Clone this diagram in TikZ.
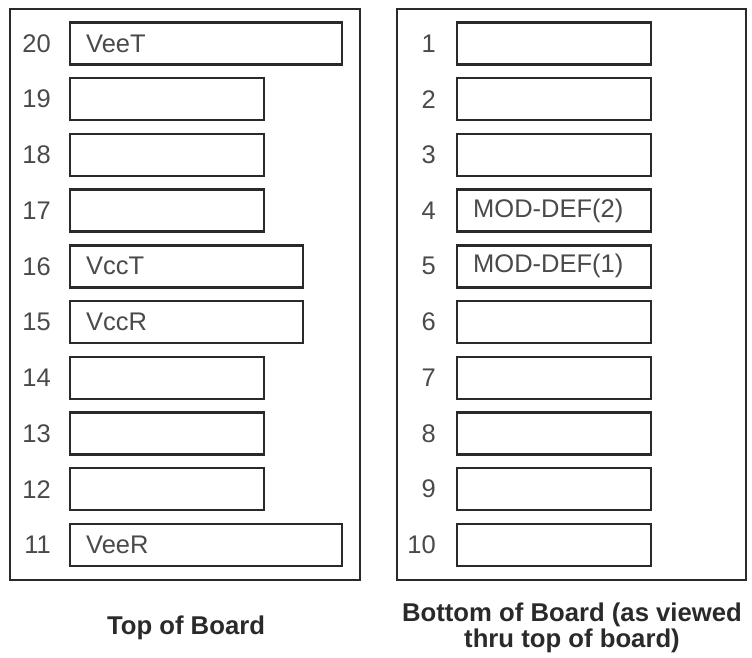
\documentclass[tikz,border=0pt]{standalone}
\usepackage{fontspec}
\setmainfont{Liberation Sans}
\usepackage{tikz}
\usetikzlibrary{positioning}
\definecolor{lineGray}{HTML}{2A2A2A}
\definecolor{textGray}{HTML}{4A4A4A}
\tikzset{
    boardFrame/.style={draw=lineGray, line width=2.4pt},
    pinPad/.style={draw=lineGray, line width=2.4pt, rectangle, anchor=west,
        minimum height=42pt, inner xsep=16pt, inner ysep=0pt, align=left,
        text width=#1-32pt, minimum width=#1, text=textGray,
        font=\fontsize{25.5}{25.5}\selectfont},
    pinPad/.default=194pt,
    pinNum/.style={anchor=east, inner sep=0pt, text=textGray,
        font=\fontsize{25.5}{25.5}\selectfont},
    boardCaption/.style={align=center, inner sep=0pt, text=lineGray,
        font=\fontsize{25.7}{25.5}\selectfont\bfseries}
}
\begin{document}
\begin{tikzpicture}[x=1pt,y=-1pt]
        \useasboundingbox (0,0) rectangle (752,657);
        % top of board
        \draw[boardFrame] (10,9) rectangle (360,580);
        \node[pinPad=272pt] (pad20) at (69,43.5) {VeeT};
        \node[pinPad] (pad19) at (69,99.2) {};
        \node[pinPad] (pad18) at (69,154.9) {};
        \node[pinPad] (pad17) at (69,210.6) {};
        \node[pinPad=233pt] (pad16) at (69,266.3) {VccT};
        \node[pinPad=233pt] (pad15) at (69,322) {VccR};
        \node[pinPad] (pad14) at (69,377.7) {};
        \node[pinPad] (pad13) at (69,433.4) {};
        \node[pinPad] (pad12) at (69,489.1) {};
        \node[pinPad=272pt] (pad11) at (69,544.8) {VeeR};
        \node[pinNum, left=18pt of pad20.west] (num20) {20};
        \node[pinNum, left=18pt of pad19.west] (num19) {19};
        \node[pinNum, left=18pt of pad18.west] (num18) {18};
        \node[pinNum, left=18pt of pad17.west] (num17) {17};
        \node[pinNum, left=18pt of pad16.west] (num16) {16};
        \node[pinNum, left=18pt of pad15.west] (num15) {15};
        \node[pinNum, left=18pt of pad14.west] (num14) {14};
        \node[pinNum, left=18pt of pad13.west] (num13) {13};
        \node[pinNum, left=18pt of pad12.west] (num12) {12};
        \node[pinNum, left=18pt of pad11.west] (num11) {11};
        \node[boardCaption] (topCaption) at (186,628) {Top of Board};
        % bottom of board
        \draw[boardFrame] (397,9) rectangle (746,580);
        \node[pinPad] (pad1) at (456,43.5) {};
        \node[pinPad] (pad2) at (456,99.2) {};
        \node[pinPad] (pad3) at (456,154.9) {};
        \node[pinPad] (pad4) at (456,210.6) {MOD-DEF(2)};
        \node[pinPad] (pad5) at (456,266.3) {MOD-DEF(1)};
        \node[pinPad] (pad6) at (456,322) {};
        \node[pinPad] (pad7) at (456,377.7) {};
        \node[pinPad] (pad8) at (456,433.4) {};
        \node[pinPad] (pad9) at (456,489.1) {};
        \node[pinPad] (pad10) at (456,544.8) {};
        \node[pinNum, left=20pt of pad1.west] (num1) {1};
        \node[pinNum, left=20pt of pad2.west] (num2) {2};
        \node[pinNum, left=20pt of pad3.west] (num3) {3};
        \node[pinNum, left=20pt of pad4.west] (num4) {4};
        \node[pinNum, left=20pt of pad5.west] (num5) {5};
        \node[pinNum, left=20pt of pad6.west] (num6) {6};
        \node[pinNum, left=20pt of pad7.west] (num7) {7};
        \node[pinNum, left=20pt of pad8.west] (num8) {8};
        \node[pinNum, left=20pt of pad9.west] (num9) {9};
        \node[pinNum, left=20pt of pad10.west] (num10) {10};
        \node[boardCaption] (bottomCaption) at (572,628) {Bottom of Board (as viewed\\thru top of board)};
\end{tikzpicture}
\end{document}
